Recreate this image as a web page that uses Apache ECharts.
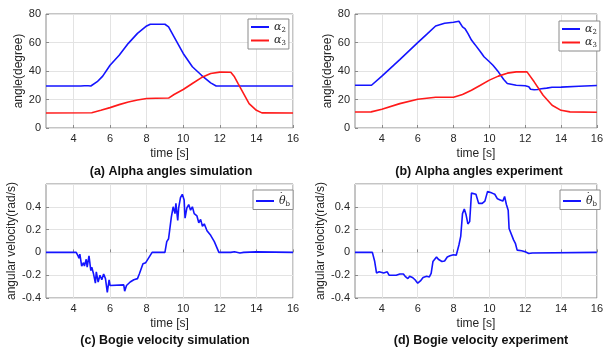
<!DOCTYPE html>
<html>
<head>
<meta charset="utf-8">
<script src="https://cdn.jsdelivr.net/npm/echarts@6/dist/echarts.min.js"></script>
<style>
  html, body { margin: 0; padding: 0; background: #fff; }
  #chart { width: 606px; height: 354px; }
</style>
</head>
<body>
<div id="chart"></div>
<script>
// x tick labels shared by all panels
const timeTicks = [4, 6, 8, 10, 12, 14, 16];

// (a) alpha angles, simulation
const tA2Sim = [2.5, 4.4, 4.5, 4.6, 4.7, 4.8, 4.95, 5.3, 5.6, 6, 6.5, 7, 7.5, 8, 8.2, 9, 9.2, 9.5, 10, 10.5, 11, 11.5, 11.8, 16];
const a2Sim = [29.5, 29.5, 30.2, 29.6, 30.2, 29.6, 29.5, 32.5, 36.4, 44, 51, 59.4, 66.4, 71.6, 72.8, 72.8, 71, 64, 52.3, 43, 37, 31.7, 29.5, 29.5];
const tA3Sim = [2.5, 5.0, 5.5, 6, 6.5, 7, 7.5, 8, 8.5, 9.2, 9.5, 10, 10.5, 11, 11.5, 12, 12.6, 12.8, 13, 13.3, 13.6, 14, 14.3, 16];
const a3Sim = [10.5, 10.7, 12.4, 14.3, 16.4, 18.3, 19.7, 20.7, 20.9, 21, 23.5, 27, 31.2, 35.4, 38.3, 39.2, 39.1, 35.9, 31.2, 24.2, 17.1, 12.4, 10.6, 10.5];

// (b) alpha angles, experiment
const tA2Exp = [2.5, 3.42, 4, 5, 6, 6.5, 7, 7.5, 8, 8.3, 8.4, 8.5, 8.65, 8.8, 9, 9.2, 9.5, 9.7, 10, 10.2, 10.5, 10.8, 11, 11.5, 12, 12.2, 12.3, 12.4, 12.5, 12.6, 12.7, 12.8, 12.9, 13, 13.2, 13.5, 14, 15, 16];
const a2Exp = [30, 30, 36.4, 48, 59.9, 65.7, 71.6, 73.5, 74.2, 74.9, 73.5, 71, 69.5, 66.4, 61.7, 58.5, 53.5, 50, 46.5, 44, 39.4, 34, 31.2, 30, 29.6, 29, 27.2, 28.2, 26.8, 28, 27, 28.3, 27.5, 28.5, 28, 28.6, 28.7, 29.3, 29.8];
const tA3Exp = [2.5, 3.4, 4, 5, 6, 7, 8, 8.5, 9, 9.5, 10, 10.5, 11, 11.5, 12.1, 12.5, 13, 13.5, 14, 14.5, 16];
const a3Exp = [11.2, 11.3, 13.1, 17.1, 20.2, 21.6, 21.6, 23.5, 26.5, 30, 33.6, 36.4, 38.5, 39.4, 39.4, 32.4, 23, 16, 12.4, 11.3, 11];

// (c) bogie velocity, simulation
const tVSim = [2.5, 4.15, 4.25, 4.3, 4.35, 4.45, 4.55, 4.6, 4.7, 4.75, 4.85, 4.95, 5.0, 5.1, 5.2, 5.25, 5.35, 5.45, 5.55, 5.65, 5.75, 5.85, 5.95, 6.0, 6.1, 6.75, 6.8, 6.9, 7.0, 7.1, 7.3, 7.5, 7.6, 7.7, 7.8, 7.95, 8.05, 8.3, 9.0, 9.1, 9.2, 9.3, 9.35, 9.45, 9.55, 9.6, 9.7, 9.75, 9.85, 9.95, 10.05, 10.1, 10.2, 10.3, 10.4, 10.5, 10.6, 10.75, 10.85, 10.95, 11.05, 11.15, 11.3, 11.5, 11.7, 11.95, 12.6, 12.7, 12.8, 13.1, 13.3, 14.0, 14.1, 16];
const vSim = [0, 0, -0.03, -0.05, -0.015, -0.12, -0.09, -0.12, -0.06, -0.13, -0.03, -0.16, -0.13, -0.19, -0.27, -0.17, -0.26, -0.2, -0.24, -0.19, -0.23, -0.35, -0.24, -0.29, -0.28, -0.285, -0.34, -0.29, -0.3, -0.26, -0.24, -0.23, -0.19, -0.19, -0.1, -0.09, -0.08, 0, 0, 0.094, 0.12, 0.13, 0.31, 0.4, 0.34, 0.43, 0.28, 0.39, 0.48, 0.51, 0.46, 0.3, 0.39, 0.42, 0.37, 0.4, 0.34, 0.32, 0.26, 0.29, 0.23, 0.25, 0.19, 0.15, 0.094, 0, 0, -0.01, 0.005, -0.005, 0, 0.005, 0, 0];

// (d) bogie velocity, experiment
const tVExp = [2.5, 3.47, 3.6, 3.7, 3.85, 3.95, 4.1, 4.2, 4.3, 4.4, 4.5, 4.6, 4.7, 4.8, 5.0, 5.2, 5.3, 5.45, 5.55, 5.7, 5.85, 6.0, 6.15, 6.3, 6.5, 6.65, 6.75, 6.85, 6.95, 7.05, 7.15, 7.35, 7.5, 7.65, 7.8, 8.0, 8.15, 8.3, 8.4, 8.5, 8.6, 8.7, 8.8, 8.9, 9.0, 9.1, 9.25, 9.4, 9.6, 9.75, 9.9, 10.0, 10.15, 10.3, 10.45, 10.6, 10.75, 10.85, 10.95, 11.05, 11.1, 11.2, 11.35, 11.45, 11.55, 11.8, 12.0, 12.2, 12.3, 12.4, 12.5, 16];
const vExp = [0, 0, -0.08, -0.18, -0.17, -0.16, -0.18, -0.19, -0.17, -0.2, -0.185, -0.2, -0.19, -0.2, -0.19, -0.19, -0.21, -0.23, -0.21, -0.22, -0.24, -0.27, -0.25, -0.22, -0.21, -0.215, -0.185, -0.08, -0.07, -0.04, -0.06, -0.08, -0.075, -0.04, -0.03, -0.02, -0.025, 0.065, 0.14, 0.34, 0.38, 0.33, 0.25, 0.27, 0.52, 0.53, 0.51, 0.43, 0.43, 0.45, 0.535, 0.545, 0.52, 0.51, 0.47, 0.46, 0.45, 0.49, 0.42, 0.37, 0.21, 0.2, 0.11, 0.08, 0.02, 0.015, 0.005, -0.01, 0.005, -0.005, 0, 0];

const FONT = 'Liberation Sans';
const BLUE = '#1414ff';
const RED = '#ff1a1a';

const zip = (t, v) => t.map((x, i) => [x, v[i]]);

const grids = [
  { left: 46, top: 14, width: 247, height: 114 },
  { left: 355, top: 14, width: 246, height: 114 },
  { left: 46, top: 184, width: 247, height: 114 },
  { left: 355, top: 184, width: 246, height: 114 }
].map(g => Object.assign(g, { show: true, borderColor: '#8a8a8a', borderWidth: 1, backgroundColor: '#fff' }));

function xAxisFor(gridIndex) {
  return {
    type: 'value',
    gridIndex,
    min: 2.5,
    max: 16,
    name: 'time [s]',
    nameLocation: 'middle',
    nameGap: 20,
    nameTextStyle: { fontFamily: FONT, fontSize: 12, color: '#262626' },
    axisLine: { show: false },
    axisTick: { show: true, inside: true, length: 3, customValues: timeTicks, lineStyle: { color: '#8a8a8a' } },
    axisLabel: { customValues: timeTicks, margin: 5, fontFamily: FONT, fontSize: 11, color: '#262626' },
    splitLine: { show: true, lineStyle: { color: '#e3e3e3', width: 1 } }
  };
}

function yAxisFor(gridIndex, name, min, max, interval, gap, fmt) {
  return {
    type: 'value',
    gridIndex,
    min, max, interval,
    name,
    nameLocation: 'middle',
    nameGap: gap,
    nameTextStyle: { fontFamily: FONT, fontSize: 12, color: '#262626' },
    axisLine: { show: false },
    axisTick: { show: true, inside: true, length: 3, lineStyle: { color: '#8a8a8a' } },
    axisLabel: { margin: 5, fontFamily: FONT, fontSize: 11, color: '#262626', showMaxLabel: max !== 0.6, formatter: fmt },
    splitLine: { show: true, lineStyle: { color: '#e3e3e3', width: 1 } }
  };
}

const fmtVel = v => {
  const r = Math.round(v * 10) / 10;
  return r === 0 ? '0' : String(r);
};

function lineSeries(name, data, color, idx) {
  return {
    name, type: 'line', data, xAxisIndex: idx, yAxisIndex: idx,
    symbol: 'none', smooth: false, animation: false,
    lineStyle: { color, width: 1.6 }, itemStyle: { color }
  };
}

// legend labels: italic symbol with a small subscript; theta carries a dot on top
const legendText = {
  a: { fontFamily: 'DejaVu Serif', fontStyle: 'italic', fontSize: 11, color: '#222' },
  d: { fontFamily: 'DejaVu Sans', fontSize: 9, color: '#222', padding: [0, 0, 9, 0], width: 0 },
  s: { fontFamily: 'DejaVu Serif', fontSize: 7, color: '#222', padding: [6, 0, 0, 0] }
};

function legendFor(names, left, top) {
  return {
    data: names.map(n => ({ name: n, icon: 'rect' })),
    orient: 'vertical',
    left, top,
    padding: [2, 3, 2, 3],
    itemGap: 1,
    itemWidth: 18,
    itemHeight: 2,
    backgroundColor: '#fff',
    borderColor: '#8a8a8a',
    borderWidth: 1,
    selectedMode: false,
    formatter: n => {
      if (n === 'α2') return '{a|α}{s|2}';
      if (n === 'α3') return '{a|α}{s|3}';
      return '{d|˙}{a|θ}{s|b}';
    },
    textStyle: { lineHeight: 12, rich: legendText }
  };
}

function caption(text, x, y) {
  return {
    text, left: x, top: y, padding: 0,
    textAlign: 'center', textVerticalAlign: 'middle',
    textStyle: { fontFamily: FONT, fontSize: 12.5, fontWeight: 'bold', color: '#111' }
  };
}

const chart = echarts.init(document.getElementById('chart'), null, { renderer: 'canvas' });

chart.setOption({
  backgroundColor: '#fff',
  animation: false,
  title: [
    caption('(a) Alpha angles simulation', 171, 172),
    caption('(b) Alpha angles experiment', 479, 172),
    caption('(c) Bogie velocity simulation', 165, 341),
    caption('(d) Bogie velocity experiment', 481, 341)
  ],
  legend: [
    legendFor(['α2', 'α3'], 248, 19),
    legendFor(['α2', 'α3'], 559, 21),
    legendFor(['θb'], 253, 190),
    legendFor(['θb'], 560, 190)
  ],
  grid: grids,
  xAxis: [xAxisFor(0), xAxisFor(1), xAxisFor(2), xAxisFor(3)],
  yAxis: [
    yAxisFor(0, 'angle(degree)', 0, 80, 20, 20),
    yAxisFor(1, 'angle(degree)', 0, 80, 20, 20),
    yAxisFor(2, 'angular velocity(rad/s)', -0.4, 0.6, 0.2, 28, fmtVel),
    yAxisFor(3, 'angular velocity(rad/s)', -0.4, 0.6, 0.2, 28, fmtVel)
  ],
  series: [
    lineSeries('α2', zip(tA2Sim, a2Sim), BLUE, 0),
    lineSeries('α3', zip(tA3Sim, a3Sim), RED, 0),
    lineSeries('α2', zip(tA2Exp, a2Exp), BLUE, 1),
    lineSeries('α3', zip(tA3Exp, a3Exp), RED, 1),
    lineSeries('θb', zip(tVSim, vSim), BLUE, 2),
    lineSeries('θb', zip(tVExp, vExp), BLUE, 3)
  ]
});
</script>
</body>
</html>
